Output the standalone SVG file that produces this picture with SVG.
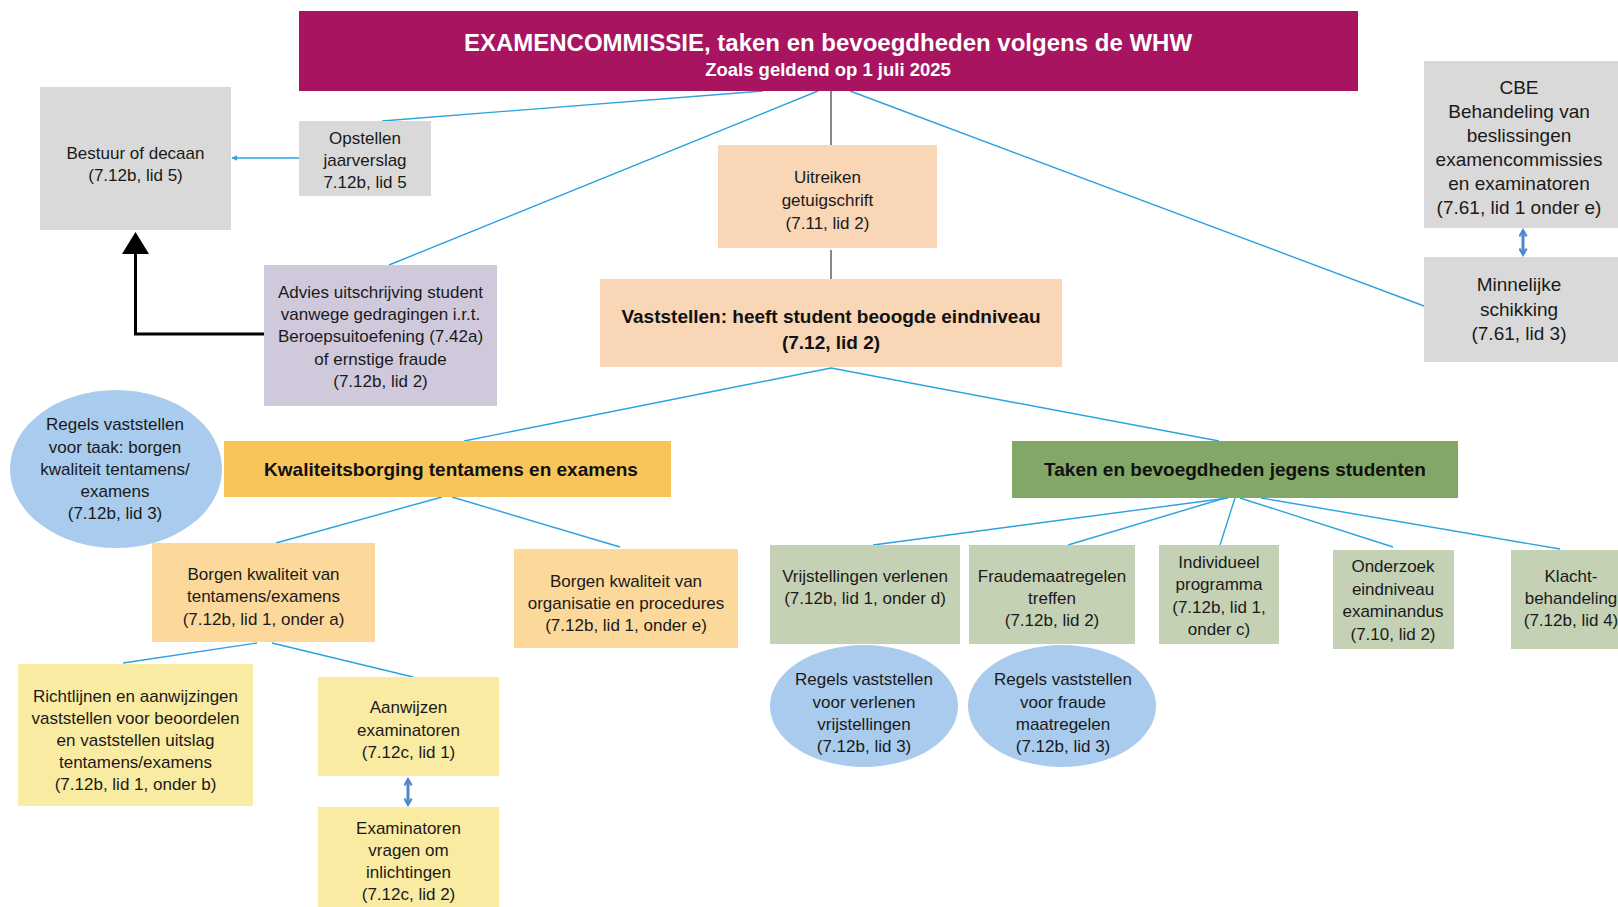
<svg xmlns="http://www.w3.org/2000/svg" width="1618" height="907" viewBox="0 0 1618 907">
<defs>
<style>
text{font-family:"Liberation Sans",Arial,sans-serif;font-size:17px;fill:#1a1a1a;text-anchor:middle}
.b{font-weight:bold;font-size:19px;fill:#111}
.big{font-size:19px}
.t1{font-weight:bold;font-size:24px;fill:#fff}
.t2{font-weight:bold;font-size:18.5px;fill:#fff}
.ln{stroke:#2AA3DE;stroke-width:1.4;fill:none}
.gl{stroke:#555;stroke-width:1.4;fill:none}
.da{stroke:#4F87CC;stroke-width:3;fill:none;marker-start:url(#dh);marker-end:url(#dh)}
.gray{fill:#D9D9D9}.peach{fill:#F8D6B6}.lav{fill:#D0C9DC}.circ{fill:#A9CBED}
.org{fill:#F9C55A}.lorg{fill:#FCD99A}.yel{fill:#FAEBA3}.grn{fill:#82A766}.lgrn{fill:#C5D1B4}
</style>
<marker id="dh" viewBox="0 0 10 10" refX="7" refY="5" markerWidth="3" markerHeight="3" orient="auto-start-reverse">
<path d="M1,1 L8,5 L1,9" fill="none" stroke="#4F87CC" stroke-width="2.4"/>
</marker>
<marker id="ah" viewBox="0 0 10 10" refX="9" refY="5" markerWidth="6" markerHeight="6" orient="auto" markerUnits="userSpaceOnUse">
<path d="M0,0 L10,5 L0,10 z" fill="#2AA3DE"/>
</marker>
</defs>
<rect width="1618" height="907" fill="#fff"/>

<g id="connectors">
<line class="ln" x1="763" y1="91" x2="382" y2="121"/>
<line class="ln" x1="818" y1="91" x2="389" y2="265"/>
<line class="ln" x1="850" y1="91" x2="1424" y2="306"/>
<line class="gl" x1="831" y1="91" x2="831" y2="145"/>
<line class="gl" x1="831" y1="250" x2="831" y2="279"/>
<line class="ln" x1="299" y1="158" x2="232" y2="158" marker-end="url(#ah)"/>
<path d="M264,334 H135.5 V252" fill="none" stroke="#000" stroke-width="3"/>
<polygon points="122,254 149,254 135.5,232" fill="#000"/>
<line class="ln" x1="831" y1="368" x2="464" y2="441"/>
<line class="ln" x1="831" y1="368" x2="1219" y2="441"/>
<line class="ln" x1="442" y1="497" x2="276" y2="543"/>
<line class="ln" x1="452" y1="497" x2="620" y2="547"/>
<line class="ln" x1="257" y1="643" x2="123" y2="663"/>
<line class="ln" x1="272" y1="643" x2="413" y2="677"/>
<line class="ln" x1="1228" y1="498" x2="873" y2="545"/>
<line class="ln" x1="1225" y1="498" x2="1068" y2="545"/>
<line class="ln" x1="1235" y1="498" x2="1220" y2="545"/>
<line class="ln" x1="1240" y1="498" x2="1393" y2="547"/>
<line class="ln" x1="1261" y1="498" x2="1560" y2="549"/>
<line class="da" x1="1523" y1="231" x2="1523" y2="254"/>
<line class="da" x1="408" y1="780" x2="408" y2="804"/>
</g>

<g id="title">
<rect x="299" y="11" width="1059" height="80" fill="#A8145F"/>
<text class="t1" x="828" y="51">EXAMENCOMMISSIE, taken en bevoegdheden volgens de WHW</text>
<text class="t2" x="828" y="76">Zoals geldend op 1 juli 2025</text>
</g>

<g id="bestuur">
<rect class="gray" x="40" y="87" width="191" height="143"/>
<text x="135.5" y="159">Bestuur of decaan</text>
<text x="135.5" y="181">(7.12b, lid 5)</text>
</g>

<g id="opstellen">
<rect class="gray" x="299" y="121" width="132" height="75"/>
<text x="365" y="144">Opstellen</text>
<text x="365" y="166">jaarverslag</text>
<text x="365" y="188">7.12b, lid 5</text>
</g>

<g id="advies">
<rect class="lav" x="264" y="265" width="233" height="141"/>
<text x="380.5" y="298">Advies uitschrijving student</text>
<text x="380.5" y="320">vanwege gedragingen i.r.t.</text>
<text x="380.5" y="342">Beroepsuitoefening (7.42a)</text>
<text x="380.5" y="365">of ernstige fraude</text>
<text x="380.5" y="387">(7.12b, lid 2)</text>
</g>

<g id="uitreiken">
<rect class="peach" x="718" y="145" width="219" height="103"/>
<text x="827.5" y="183">Uitreiken</text>
<text x="827.5" y="206">getuigschrift</text>
<text x="827.5" y="229">(7.11, lid 2)</text>
</g>

<g id="vaststellen">
<rect class="peach" x="600" y="279" width="462" height="88"/>
<text class="b" x="831" y="323">Vaststellen: heeft student beoogde eindniveau</text>
<text class="b" x="831" y="349">(7.12, lid 2)</text>
</g>

<g id="cbe">
<rect class="gray" x="1424" y="61" width="194" height="167"/>
<text class="big" x="1519" y="94">CBE</text>
<text class="big" x="1519" y="118">Behandeling van</text>
<text class="big" x="1519" y="142">beslissingen</text>
<text class="big" x="1519" y="166">examencommissies</text>
<text class="big" x="1519" y="190">en examinatoren</text>
<text class="big" x="1519" y="214">(7.61, lid 1 onder e)</text>
</g>

<g id="minnelijke">
<rect class="gray" x="1424" y="257" width="194" height="105"/>
<text class="big" x="1519" y="291">Minnelijke</text>
<text class="big" x="1519" y="316">schikking</text>
<text class="big" x="1519" y="340">(7.61, lid 3)</text>
</g>

<g id="regels-taak">
<ellipse class="circ" cx="116" cy="469" rx="106" ry="79"/>
<text x="115" y="430">Regels vaststellen</text>
<text x="115" y="453">voor taak: borgen</text>
<text x="115" y="475">kwaliteit tentamens/</text>
<text x="115" y="497">examens</text>
<text x="115" y="519">(7.12b, lid 3)</text>
</g>

<g id="kwaliteitsborging">
<rect class="org" x="224" y="441" width="447" height="56"/>
<text class="b" x="451" y="476">Kwaliteitsborging tentamens en examens</text>
</g>

<g id="taken">
<rect class="grn" x="1012" y="441" width="446" height="57"/>
<text class="b" x="1235" y="476">Taken en bevoegdheden jegens studenten</text>
</g>

<g id="borgen-tentamens">
<rect class="lorg" x="152" y="543" width="223" height="99"/>
<text x="263.5" y="580">Borgen kwaliteit van</text>
<text x="263.5" y="602">tentamens/examens</text>
<text x="263.5" y="625">(7.12b, lid 1, onder a)</text>
</g>

<g id="borgen-organisatie">
<rect class="lorg" x="514" y="549" width="224" height="99"/>
<text x="626" y="587">Borgen kwaliteit van</text>
<text x="626" y="609">organisatie en procedures</text>
<text x="626" y="631">(7.12b, lid 1, onder e)</text>
</g>

<g id="richtlijnen">
<rect class="yel" x="18" y="664" width="235" height="142"/>
<text x="135.5" y="702">Richtlijnen en aanwijzingen</text>
<text x="135.5" y="724">vaststellen voor beoordelen</text>
<text x="135.5" y="746">en vaststellen uitslag</text>
<text x="135.5" y="768">tentamens/examens</text>
<text x="135.5" y="790">(7.12b, lid 1, onder b)</text>
</g>

<g id="aanwijzen">
<rect class="yel" x="318" y="677" width="181" height="99"/>
<text x="408.5" y="713">Aanwijzen</text>
<text x="408.5" y="736">examinatoren</text>
<text x="408.5" y="758">(7.12c, lid 1)</text>
</g>

<g id="examinatoren">
<rect class="yel" x="318" y="807" width="181" height="110"/>
<text x="408.5" y="834">Examinatoren</text>
<text x="408.5" y="856">vragen om</text>
<text x="408.5" y="878">inlichtingen</text>
<text x="408.5" y="900">(7.12c, lid 2)</text>
</g>

<g id="vrijstellingen">
<rect class="lgrn" x="770" y="545" width="190" height="99"/>
<text x="865" y="582">Vrijstellingen verlenen</text>
<text x="865" y="604">(7.12b, lid 1, onder d)</text>
</g>

<g id="fraude">
<rect class="lgrn" x="969" y="545" width="166" height="99"/>
<text x="1052" y="582">Fraudemaatregelen</text>
<text x="1052" y="604">treffen</text>
<text x="1052" y="626">(7.12b, lid 2)</text>
</g>

<g id="individueel">
<rect class="lgrn" x="1159" y="545" width="120" height="99"/>
<text x="1219" y="568">Individueel</text>
<text x="1219" y="590">programma</text>
<text x="1219" y="613">(7.12b, lid 1,</text>
<text x="1219" y="635">onder c)</text>
</g>

<g id="onderzoek">
<rect class="lgrn" x="1333" y="550" width="121" height="99"/>
<text x="1393" y="572">Onderzoek</text>
<text x="1393" y="595">eindniveau</text>
<text x="1393" y="617">examinandus</text>
<text x="1393" y="640">(7.10, lid 2)</text>
</g>

<g id="klacht">
<rect class="lgrn" x="1511" y="550" width="120" height="99"/>
<text x="1571" y="582">Klacht-</text>
<text x="1571" y="604">behandeling</text>
<text x="1571" y="626">(7.12b, lid 4)</text>
</g>

<g id="regels-vrijstellingen">
<ellipse class="circ" cx="864" cy="706" rx="94" ry="61"/>
<text x="864" y="685">Regels vaststellen</text>
<text x="864" y="708">voor verlenen</text>
<text x="864" y="730">vrijstellingen</text>
<text x="864" y="752">(7.12b, lid 3)</text>
</g>

<g id="regels-fraude">
<ellipse class="circ" cx="1062" cy="706" rx="94" ry="61"/>
<text x="1063" y="685">Regels vaststellen</text>
<text x="1063" y="708">voor fraude</text>
<text x="1063" y="730">maatregelen</text>
<text x="1063" y="752">(7.12b, lid 3)</text>
</g>
</svg>
